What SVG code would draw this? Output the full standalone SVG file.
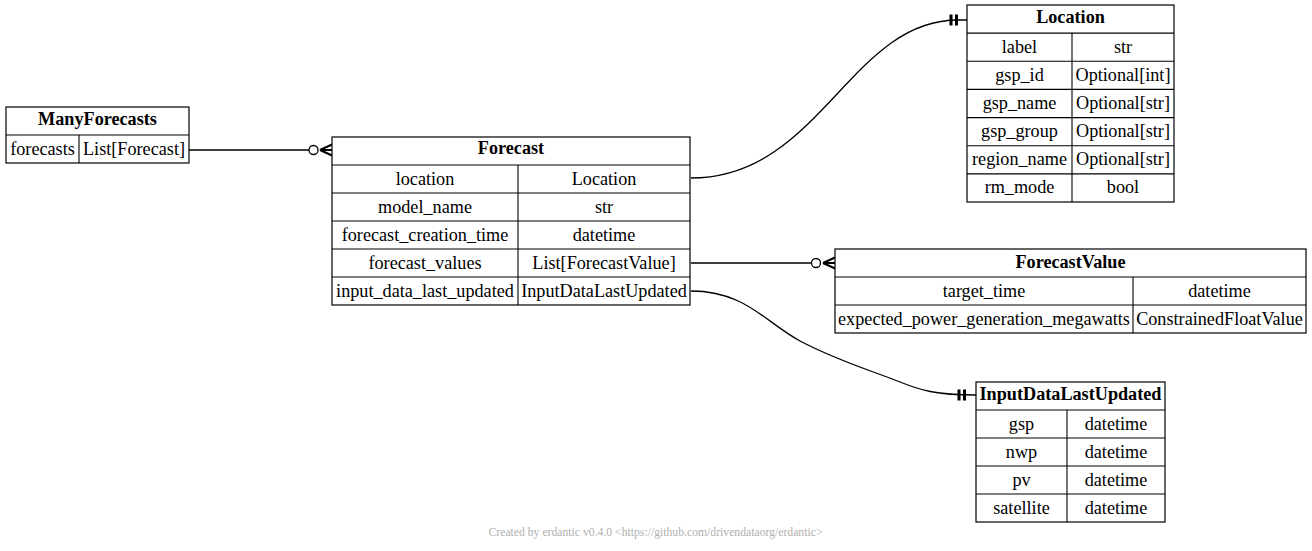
<svg xmlns="http://www.w3.org/2000/svg" width="1312" height="551" viewBox="0 0 1312 551">
<style>
  .box { fill: #ffffff; stroke: #000000; stroke-width: 1.2; }
  .ln { stroke: #000000; stroke-width: 1.1; fill: none; }
  .t { font-family: "Liberation Serif", "Times New Roman", serif; font-size: 18.2px; fill: #000000; text-anchor: middle; }
  .h { font-family: "Liberation Serif", "Times New Roman", serif; font-size: 18.2px; font-weight: bold; fill: #000000; text-anchor: middle; }
  .edge { stroke: #000000; stroke-width: 1.3; fill: none; }
  .crow { stroke: #000000; stroke-width: 2; fill: none; }
  .odot { stroke: #000000; stroke-width: 1.3; fill: #ffffff; }
  .tee { fill: #000000; stroke: none; }
  .foot { font-family: "Liberation Serif", "Times New Roman", serif; font-size: 11.7px; fill: #b0b0b0; text-anchor: middle; }
</style>
<rect width="1312" height="551" fill="#ffffff"/>

<g id="connectors">
  <!-- ManyForecasts.forecasts -> Forecast -->
  <line class="edge" x1="189" y1="150" x2="309" y2="150"/>
  <circle class="odot" cx="313.5" cy="150" r="4.5"/>
  <path class="crow" d="M320,150 L332,144.5 M320,150 L332,150 M320,150 L332,155.5"/>
  <!-- Forecast.location -> Location -->
  <path class="edge" d="M691,178 C820,178 850,20 958,20 L967,20"/>
  <rect class="tee" x="949.5" y="14.5" width="3" height="11"/>
  <rect class="tee" x="955" y="14.5" width="3" height="11"/>
  <!-- Forecast.forecast_values -> ForecastValue -->
  <line class="edge" x1="691" y1="263" x2="811.5" y2="263"/>
  <circle class="odot" cx="816" cy="263" r="4.5"/>
  <path class="crow" d="M823,263 L835,257.5 M823,263 L835,263 M823,263 L835,268.5"/>
  <!-- Forecast.input_data_last_updated -> InputDataLastUpdated -->
  <path class="edge" d="M691,291 C745,291 765,322 800,341 C838,361 870,370 900,382 C920,390 935,395 976,395"/>
  <rect class="tee" x="957.5" y="389.5" width="3" height="11"/>
  <rect class="tee" x="963" y="389.5" width="3" height="11"/>
</g>

<g id="ManyForecasts">
  <rect class="box" x="6" y="107" width="183" height="56"/>
  <line class="ln" x1="6" y1="135" x2="189" y2="135"/>
  <line class="ln" x1="79" y1="135" x2="79" y2="163"/>
  <text class="h" x="97.5" y="125">ManyForecasts</text>
  <text class="t" x="42.5" y="154.5">forecasts</text>
  <text class="t" x="134" y="154.5">List[Forecast]</text>
</g>

<g id="Forecast">
  <rect class="box" x="332" y="137" width="358" height="168"/>
  <line class="ln" x1="332" y1="165" x2="690" y2="165"/>
  <line class="ln" x1="332" y1="193" x2="690" y2="193"/>
  <line class="ln" x1="332" y1="221" x2="690" y2="221"/>
  <line class="ln" x1="332" y1="249" x2="690" y2="249"/>
  <line class="ln" x1="332" y1="277" x2="690" y2="277"/>
  <line class="ln" x1="518" y1="165" x2="518" y2="305"/>
  <text class="h" x="511" y="154">Forecast</text>
  <text class="t" x="425" y="184.5">location</text>
  <text class="t" x="604" y="184.5">Location</text>
  <text class="t" x="425" y="212.5">model_name</text>
  <text class="t" x="604" y="212.5">str</text>
  <text class="t" x="425" y="240.5">forecast_creation_time</text>
  <text class="t" x="604" y="240.5">datetime</text>
  <text class="t" x="425" y="268.5">forecast_values</text>
  <text class="t" x="604" y="268.5">List[ForecastValue]</text>
  <text class="t" x="425" y="296.5">input_data_last_updated</text>
  <text class="t" x="604" y="296.5">InputDataLastUpdated</text>
</g>

<g id="Location">
  <rect class="box" x="967" y="5" width="207" height="197"/>
  <line class="ln" x1="967" y1="33.1" x2="1174" y2="33.1"/>
  <line class="ln" x1="967" y1="61.3" x2="1174" y2="61.3"/>
  <line class="ln" x1="967" y1="89.4" x2="1174" y2="89.4"/>
  <line class="ln" x1="967" y1="117.6" x2="1174" y2="117.6"/>
  <line class="ln" x1="967" y1="145.7" x2="1174" y2="145.7"/>
  <line class="ln" x1="967" y1="173.9" x2="1174" y2="173.9"/>
  <line class="ln" x1="1072" y1="33.1" x2="1072" y2="202"/>
  <text class="h" x="1070.5" y="23">Location</text>
  <text class="t" x="1019.5" y="52.7">label</text>
  <text class="t" x="1123" y="52.7">str</text>
  <text class="t" x="1019.5" y="80.8">gsp_id</text>
  <text class="t" x="1123" y="80.8">Optional[int]</text>
  <text class="t" x="1019.5" y="109">gsp_name</text>
  <text class="t" x="1123" y="109">Optional[str]</text>
  <text class="t" x="1019.5" y="137.1">gsp_group</text>
  <text class="t" x="1123" y="137.1">Optional[str]</text>
  <text class="t" x="1019.5" y="165.3">region_name</text>
  <text class="t" x="1123" y="165.3">Optional[str]</text>
  <text class="t" x="1019.5" y="193.4">rm_mode</text>
  <text class="t" x="1123" y="193.4">bool</text>
</g>

<g id="ForecastValue">
  <rect class="box" x="835" y="249" width="471" height="84"/>
  <line class="ln" x1="835" y1="277" x2="1306" y2="277"/>
  <line class="ln" x1="835" y1="305" x2="1306" y2="305"/>
  <line class="ln" x1="1133" y1="277" x2="1133" y2="333"/>
  <text class="h" x="1070.5" y="268">ForecastValue</text>
  <text class="t" x="984" y="296.5">target_time</text>
  <text class="t" x="1219.5" y="296.5">datetime</text>
  <text class="t" x="984" y="324.5">expected_power_generation_megawatts</text>
  <text class="t" x="1219.5" y="324.5">ConstrainedFloatValue</text>
</g>

<g id="InputDataLastUpdated">
  <rect class="box" x="976" y="382" width="189" height="140"/>
  <line class="ln" x1="976" y1="410" x2="1165" y2="410"/>
  <line class="ln" x1="976" y1="438" x2="1165" y2="438"/>
  <line class="ln" x1="976" y1="466" x2="1165" y2="466"/>
  <line class="ln" x1="976" y1="494" x2="1165" y2="494"/>
  <line class="ln" x1="1067" y1="410" x2="1067" y2="522"/>
  <text class="h" x="1070.5" y="400">InputDataLastUpdated</text>
  <text class="t" x="1021.5" y="429.5">gsp</text>
  <text class="t" x="1116" y="429.5">datetime</text>
  <text class="t" x="1021.5" y="457.5">nwp</text>
  <text class="t" x="1116" y="457.5">datetime</text>
  <text class="t" x="1021.5" y="485.5">pv</text>
  <text class="t" x="1116" y="485.5">datetime</text>
  <text class="t" x="1021.5" y="513.5">satellite</text>
  <text class="t" x="1116" y="513.5">datetime</text>
</g>

<text class="foot" x="655.5" y="536">Created by erdantic v0.4.0 &lt;https://github.com/drivendataorg/erdantic&gt;</text>
</svg>
